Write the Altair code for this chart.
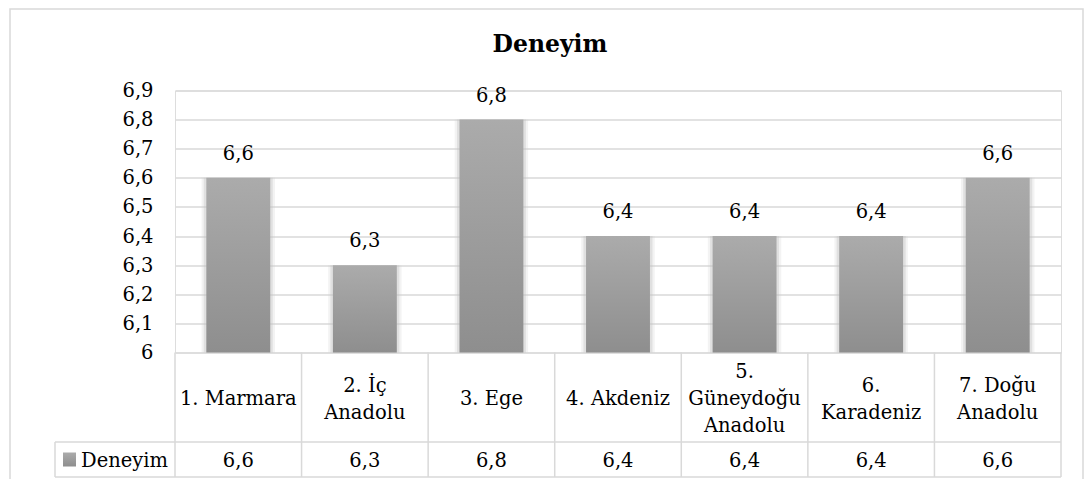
import altair as alt
import pandas as pd

# ---- data ----
categories = ["1. Marmara", "2. İç Anadolu", "3. Ege", "4. Akdeniz",
              "5. Güneydoğu Anadolu", "6. Karadeniz", "7. Doğu Anadolu"]
header_labels = ["1. Marmara", "2. İç\nAnadolu", "3. Ege", "4. Akdeniz",
                 "5.\nGüneydoğu\nAnadolu", "6.\nKaradeniz", "7. Doğu\nAnadolu"]
values = [6.6, 6.3, 6.8, 6.4, 6.4, 6.4, 6.6]
series_name = "Deneyim"
y_ticks = [6, 6.1, 6.2, 6.3, 6.4, 6.5, 6.6, 6.7, 6.8, 6.9]

df = pd.DataFrame({
    "cat": categories,
    "header": header_labels,
    "value": values,
    "label": [f"{v:.1f}".replace(".", ",") for v in values],
})

FONT = "DejaVu Serif"
FS = 19.5
GRID = "#d9d9d9"
W, H = 886, 262
ROW1 = 351.5   # bottom of header row (px, plot-relative)
ROW2 = 386.5   # bottom of data row
LH = 27

bar_grad = alt.Gradient(
    gradient="linear",
    stops=[alt.GradientStop(color="#ababab", offset=0),
           alt.GradientStop(color="#8e8e8e", offset=1)],
    x1=0, x2=0, y1=0, y2=1,
)

xenc = alt.X("cat:N", sort=categories,
             scale=alt.Scale(paddingInner=0, paddingOuter=0), axis=None)
yenc = alt.Y("value:Q", scale=alt.Scale(domain=[6, 6.9], nice=False, zero=False),
             axis=alt.Axis(values=y_ticks, title=None, domain=False, ticks=False, tickSize=0,
                           labelPadding=22, grid=True, gridColor=GRID, gridWidth=1.5,
                           labelFont=FONT, labelFontSize=FS, labelColor="#000",
                           labelOverlap=False, labelBound=False, labelFlush=False,
                           labelExpr="replace(toString(datum.value), '.', ',')"))

base = alt.Chart(df)

one = alt.Data(values=[{"t": series_name}])

border = alt.Chart(one).mark_rect(fill=None, stroke=GRID, strokeWidth=1.5).encode(
    x=alt.value(-165), x2=alt.value(908), y=alt.value(-81.5), y2=alt.value(420))

title = alt.Chart(one).mark_text(font=FONT, fontSize=23.5, fontWeight="bold",
                                 align="center", baseline="alphabetic", color="#000").encode(
    x=alt.value(375), y=alt.value(-38.5), text=alt.Text("t:N"))

shadow1 = base.mark_bar(width=alt.RelativeBandSize(0.58), color="#cfcfcf", opacity=0.25).encode(
    x=xenc, y=yenc, y2=alt.datum(6))
shadow2 = base.mark_bar(width=alt.RelativeBandSize(0.545), color="#bdbdbd", opacity=0.35).encode(
    x=xenc, y=yenc, y2=alt.datum(6))

bars = base.mark_bar(width=alt.RelativeBandSize(0.505), color=bar_grad).encode(
    x=xenc, y=yenc, y2=alt.datum(6))

value_labels = base.mark_text(font=FONT, fontSize=FS, color="#000", baseline="alphabetic",
                              dy=-18).encode(
    x=xenc, y=yenc, text="label:N")

# table
col_lines = base.mark_rule(color=GRID, strokeWidth=1.5).encode(
    x=alt.X("cat:N", sort=categories, bandPosition=0,
            scale=alt.Scale(paddingInner=0, paddingOuter=0), axis=None),
    y=alt.value(H), y2=alt.value(ROW2))
right_line = alt.Chart(one).mark_rule(color=GRID, strokeWidth=1.5).encode(
    x=alt.value(W), y=alt.value(H), y2=alt.value(ROW2))
left_cell_line = alt.Chart(one).mark_rule(color=GRID, strokeWidth=1.5).encode(
    x=alt.value(-120), y=alt.value(ROW1), y2=alt.value(ROW2))
hline1 = alt.Chart(one).mark_rule(color=GRID, strokeWidth=1.5).encode(
    x=alt.value(-120), x2=alt.value(W), y=alt.value(ROW1))
hline2 = alt.Chart(one).mark_rule(color=GRID, strokeWidth=1.5).encode(
    x=alt.value(-120), x2=alt.value(W), y=alt.value(ROW2))

header_text = base.transform_calculate(
    nl="length(split(datum.header, '\\n'))",
    ypix=f"{(H + ROW1) / 2 + 2} - (datum.nl - 1) * {LH / 2}",
).mark_text(font=FONT, fontSize=FS, color="#000", lineBreak="\n",
            lineHeight=LH, baseline="middle", align="center").encode(
    x=xenc, y=alt.Y("ypix:Q", scale=None), text="header:N")
row_text = base.mark_text(font=FONT, fontSize=FS, color="#000", baseline="middle",
                          align="center").encode(
    x=xenc, y=alt.value((ROW1 + ROW2) / 2 + 1), text="label:N")

legend_square = alt.Chart(one).mark_rect(color=bar_grad).encode(
    x=alt.value(-112), x2=alt.value(-99), y=alt.value(362), y2=alt.value(376))
legend_text = alt.Chart(one).mark_text(font=FONT, fontSize=FS, color="#000",
                                       baseline="middle", align="left").encode(
    x=alt.value(-94), y=alt.value((ROW1 + ROW2) / 2 + 1), text="t:N")

chart = alt.layer(
    border, title, shadow1, shadow2, bars, value_labels,
    col_lines, right_line, left_cell_line, hline1, hline2,
    header_text, row_text, legend_square, legend_text,
).properties(
    width=W, height=H,
    autosize=alt.AutoSizeParams(type="none"),
    padding={"left": 167, "top": 82.5, "right": 23, "bottom": 126},
).configure_view(stroke=None).configure(background="white")

chart.save("out.html", embed_options={"renderer": "svg", "actions": False})
